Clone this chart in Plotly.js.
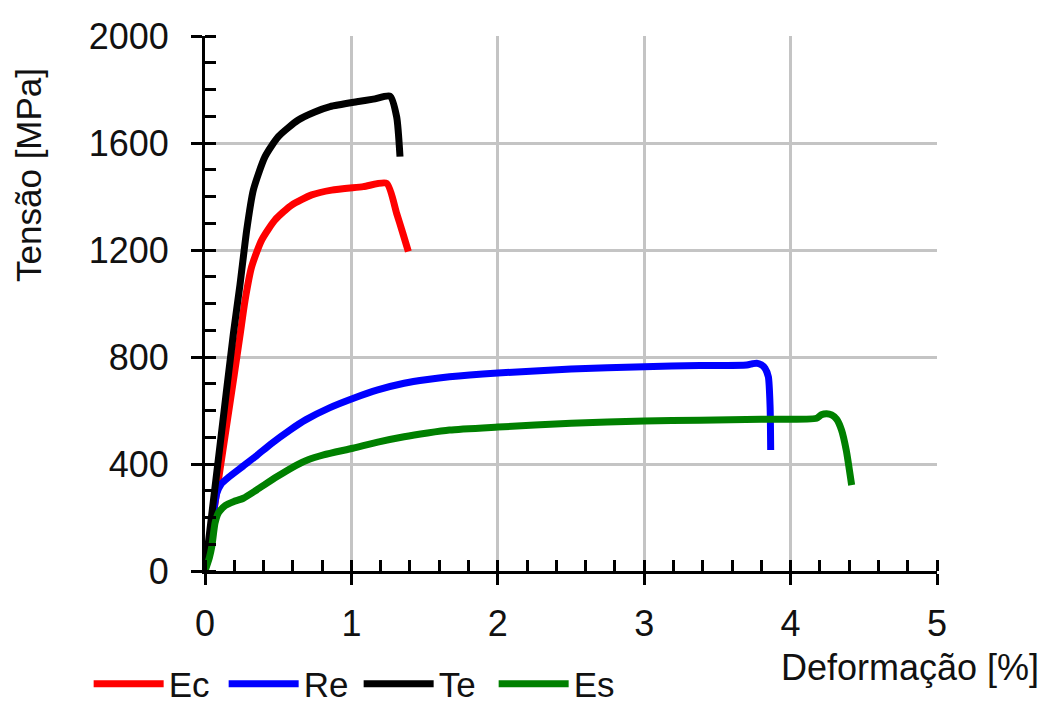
<!DOCTYPE html>
<html>
<head>
<meta charset="utf-8">
<script src="https://cdn.plot.ly/plotly-3.0.1.min.js"></script>
<style>html,body{margin:0;padding:0;background:#fff;}#chart{width:1043px;height:706px;}</style>
</head>
<body>
<div id="chart"></div>
<script>
// Ec
const ecX = [0, 0.1, 0.2, 0.239, 0.273, 0.319, 0.387, 0.478, 0.592, 0.729, 0.865, 1.081, 1.241, 1.309, 1.35, 1.389];
const ecY = [0, 370, 735, 880, 1010, 1138, 1237, 1312, 1368, 1406, 1424, 1437, 1449, 1337, 1265, 1194];
// Re
const reX = [0, 0.04, 0.08, 0.11, 0.16, 0.26, 0.35, 0.45, 0.58, 0.69, 0.85, 1.01, 1.18, 1.36, 1.52, 1.67, 2.0, 2.5, 3.0, 3.38, 3.7, 3.74, 3.768, 3.8, 3.825, 3.848, 3.86, 3.864];
const reY = [0, 150, 290, 325, 350, 392, 430, 475, 527, 566, 610, 645, 677, 702, 716, 726, 740, 755, 764, 768, 770, 775, 777, 771, 758, 726, 614, 452];
// Te
const teX = [0, 0.1, 0.194, 0.239, 0.285, 0.33, 0.41, 0.501, 0.637, 0.75, 0.854, 1.036, 1.15, 1.264, 1.309, 1.332];
const teY = [0, 458, 888, 1070, 1275, 1424, 1549, 1624, 1686, 1716, 1736, 1754, 1764, 1775, 1698, 1549];
// Es
const esX = [0, 0.03, 0.046, 0.068, 0.085, 0.102, 0.14, 0.194, 0.262, 0.353, 0.49, 0.626, 0.7, 0.81, 1.01, 1.18, 1.36, 1.52, 1.67, 2.0, 2.5, 3.0, 3.38, 3.8, 4.178, 4.21, 4.246, 4.28, 4.314, 4.348, 4.38, 4.417];
const esY = [0, 50, 90, 178, 210, 225, 245, 259, 272, 303, 352, 396, 415, 434, 459, 482, 502, 516, 527, 538, 552, 561, 564, 567, 571, 584, 588, 584, 568, 527, 452, 321];

const seriesNames = ['Ec', 'Re', 'Te', 'Es'];
const seriesColors = ['#ff0000', '#0000ff', '#000000', '#008000'];
const xTickLabels = ['0', '1', '2', '3', '4', '5'];
const yTickLabels = ['0', '400', '800', '1200', '1600', '2000'];
const xTitle = 'Deformação [%]';
const yTitle = 'Tensão [MPa]';

const FONT = 'Liberation Sans, Arial, Helvetica, sans-serif';
const FS = 36;
const allX = [ecX, reX, teX, esX];
const allY = [ecY, reY, teY, esY];

const traces = seriesNames.map((n, i) => ({
  type: 'scatter', mode: 'lines', name: n,
  x: allX[i], y: allY[i],
  line: {color: seriesColors[i], width: 7, shape: 'spline', smoothing: 0.6},
  hoverinfo: 'skip'
}));
traces.push({type: 'scatter', mode: 'lines', x: [null], y: [null], xaxis: 'x2', yaxis: 'y2', showlegend: false, hoverinfo: 'skip'});

const tickStyle = {ticklen: 11, tickwidth: 3, tickcolor: '#000'};

const layout = {
  width: 1043, height: 706,
  margin: {l: 205, r: 106, t: 36, b: 135, autoexpand: false},
  paper_bgcolor: '#fff', plot_bgcolor: '#fff',
  font: {family: FONT, size: FS, color: '#111'},
  showlegend: true,
  xaxis: Object.assign({
    range: [0, 5], tickmode: 'array', tickvals: [0, 1, 2, 3, 4, 5], ticktext: xTickLabels,
    ticks: 'outside', showline: true, linewidth: 3, linecolor: '#000',
    showgrid: true, gridcolor: '#c4c4c4', gridwidth: 3, zeroline: false,
    tickfont: {family: FONT, size: FS, color: '#111'}, ticklabelstandoff: 8,
    minor: {dtick: 0.2, tick0: 0, ticks: 'inside', ticklen: 11, tickwidth: 3, tickcolor: '#000', showgrid: false},
    fixedrange: true, automargin: false
  }, tickStyle),
  yaxis: Object.assign({
    range: [0, 2000], tickmode: 'array', tickvals: [0, 400, 800, 1200, 1600, 2000], ticktext: yTickLabels,
    ticks: 'outside', showline: true, linewidth: 3, linecolor: '#000',
    showgrid: true, gridcolor: '#c4c4c4', gridwidth: 3, zeroline: false,
    tickfont: {family: FONT, size: FS, color: '#111'}, ticklabelstandoff: 15,
    minor: {dtick: 100, tick0: 0, ticks: 'inside', ticklen: 11, tickwidth: 3, tickcolor: '#000', showgrid: false},
    fixedrange: true, automargin: false
  }, tickStyle),
  xaxis2: Object.assign({
    overlaying: 'x', anchor: 'y', range: [0, 5], tickmode: 'array', tickvals: [0, 1, 2, 3, 4, 5],
    ticks: 'inside', showticklabels: false, showgrid: false, showline: false, zeroline: false, fixedrange: true
  }, tickStyle),
  yaxis2: Object.assign({
    overlaying: 'y', anchor: 'x', side: 'left', range: [0, 2000], tickmode: 'array', tickvals: [0, 400, 800, 1200, 1600, 2000],
    ticks: 'inside', showticklabels: false, showgrid: false, showline: false, zeroline: false, fixedrange: true
  }, tickStyle),
  legend: {
    orientation: 'h', xref: 'container', yref: 'paper', x: 0.085, y: -0.211, xanchor: 'left', yanchor: 'middle',
    font: {family: FONT, size: 35, color: '#111'}, bgcolor: 'rgba(0,0,0,0)',
    itemwidth: 70, entrywidth: 50, entrywidthmode: 'pixels', traceorder: 'normal', tracegroupgap: 0
  },
  annotations: [
    {text: xTitle, xref: 'paper', yref: 'paper', x: 1.142, y: -0.18, xanchor: 'right', yanchor: 'middle',
     showarrow: false, font: {family: FONT, size: FS, color: '#111'}},
    {text: yTitle, xref: 'paper', yref: 'paper', x: -0.242, y: 0.74, xanchor: 'center', yanchor: 'middle',
     textangle: -90, showarrow: false, font: {family: FONT, size: 35, color: '#111'}}
  ]
};

Plotly.newPlot('chart', traces, layout, {displayModeBar: false, staticPlot: true});
</script>
</body>
</html>
